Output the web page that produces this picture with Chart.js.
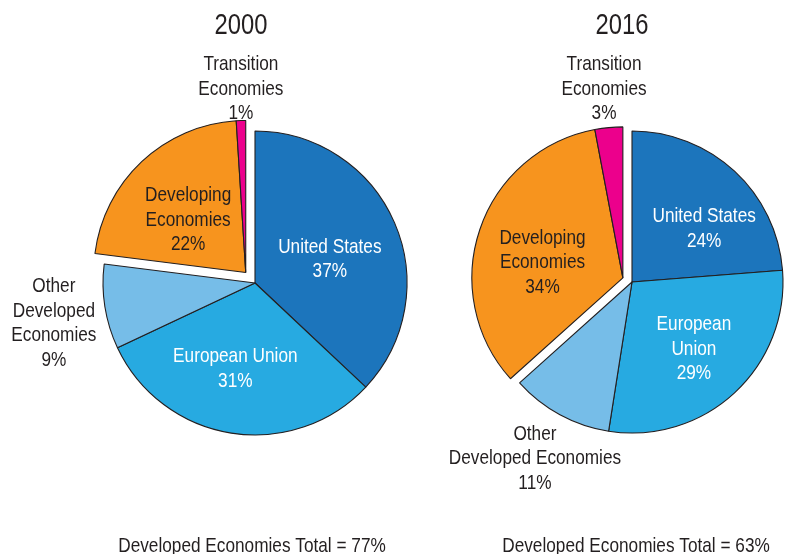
<!DOCTYPE html>
<html><head><meta charset="utf-8">
<script src="https://cdn.jsdelivr.net/npm/chart.js@4.4.0/dist/chart.umd.min.js"></script>
<style>
html,body{margin:0;padding:0;background:#fff;overflow:hidden;}
.wrap{position:absolute;left:0;top:0;width:792px;height:554px;}
</style></head><body>
<div class="wrap"><canvas id="c1"></canvas></div>
<div class="wrap"><canvas id="c2"></canvas></div>
<script>
// ---- data ----
const categories = ['United States', 'European Union', 'Other Developed Economies', 'Developing Economies', 'Transition Economies'];
const years = ['2000', '2016'];
const values2000 = [37, 31, 9, 22, 1];
const values2016 = [24, 29, 11, 34, 3];
const developedTotals = [77, 63];
const labelLines2000 = [['United States'], ['European Union'], ['Other', 'Developed', 'Economies'], ['Developing', 'Economies'], ['Transition', 'Economies']];
const labelLines2016 = [['United States'], ['European', 'Union'], ['Other', 'Developed Economies'], ['Developing', 'Economies'], ['Transition', 'Economies']];

// ---- styles ----
const sliceColors = ['#1c75bc', '#27aae1', '#76bde8', '#f7941e', '#ec008c'];
const labelColors = ['#ffffff', '#ffffff', '#231f20', '#231f20', '#231f20'];
const FONT = '"Liberation Sans", Arial, sans-serif';
const NARROW = 0.82;
const INK = '#231f20';

const explodePlugin = {
  id: 'explodeGroup',
  afterDatasetUpdate(chart, args, opts) {
    const meta = args.meta;
    const idx = opts.indices || [];
    if (!idx.length) return;
    let s = Infinity, e = -Infinity;
    idx.forEach(i => { const el = meta.data[i]; s = Math.min(s, el.startAngle); e = Math.max(e, el.endAngle); });
    const mid = (s + e) / 2;
    const dx = Math.cos(mid) * opts.offset, dy = Math.sin(mid) * opts.offset;
    idx.forEach(i => { const el = meta.data[i]; el.x += dx; el.y += dy; });
  }
};

function narrowText(ctx, t, x, y) {
  ctx.save();
  ctx.translate(x, y);
  ctx.scale(NARROW, 1);
  ctx.fillText(t, 0, 0);
  ctx.restore();
}

const textPlugin = {
  id: 'pieText',
  afterDraw(chart, args, o) {
    const ctx = chart.ctx;
    const meta = chart.getDatasetMeta(0);
    const vals = chart.data.datasets[0].data;
    const fs = 21, lh = 24.6;
    ctx.save();
    ctx.textAlign = 'center';
    ctx.textBaseline = 'alphabetic';
    ctx.font = fs + 'px ' + FONT;
    meta.data.forEach((el, i) => {
      const [f, sh] = o.place[i];
      const a = (el.startAngle + el.endAngle) / 2 + sh * Math.PI / 180;
      const r = el.outerRadius * f;
      const x = el.x + Math.cos(a) * r;
      const y = el.y + Math.sin(a) * r;
      const lines = o.lines[i].concat([vals[i] + '%']);
      const top = y - (lines.length - 1) * lh / 2;
      ctx.fillStyle = o.colors[i];
      lines.forEach((t, k) => narrowText(ctx, t, x, top + k * lh + 7.5));
    });
    const c = meta.data[0];
    const cx = c.x;
    ctx.fillStyle = INK;
    ctx.font = '29px ' + FONT;
    narrowText(ctx, o.title, cx + o.titleDx, 34);
    ctx.font = fs + 'px ' + FONT;
    narrowText(ctx, 'Developed Economies Total = ' + o.total + '%', cx + o.footDx, 552);
    ctx.restore();
  }
};

function makeChart(id, values, lines, year, total, pad, radius, offset, place, titleDx, footDx) {
  return new Chart(document.getElementById(id), {
    type: 'pie',
    data: {
      labels: categories,
      datasets: [{
        data: values,
        backgroundColor: sliceColors,
        borderColor: INK,
        borderWidth: 1.1,
        hoverOffset: 0
      }]
    },
    options: {
      responsive: true,
      maintainAspectRatio: false,
      animation: false,
      radius: radius,
      layout: { padding: pad },
      events: [],
      plugins: {
        legend: { display: false },
        tooltip: { enabled: false },
        explodeGroup: { indices: [3, 4], offset: offset },
        pieText: { lines: lines, colors: labelColors, place: place, title: year, total: total, titleDx: titleDx, footDx: footDx }
      }
    },
    plugins: [explodePlugin, textPlugin]
  });
}

makeChart('c1', values2000, labelLines2000, years[0], developedTotals[0],
  { left: 0, right: 282, top: 12, bottom: 0 }, 152, 14,
  [[0.52, 4.6], [0.567, 4.2], [1.347, -1.8], [0.52, -3.6], [1.22, 0.3]], -14, -3);
makeChart('c2', values2016, labelLines2016, years[1], developedTotals[1],
  { left: 472, right: 0, top: 10, bottom: 0 }, 151, 10,
  [[0.6, 10], [0.595, -0.8], [1.325, 0.5], [0.544, -6.8], [1.27, -0.3]], -10, 4);
</script>
</body></html>
